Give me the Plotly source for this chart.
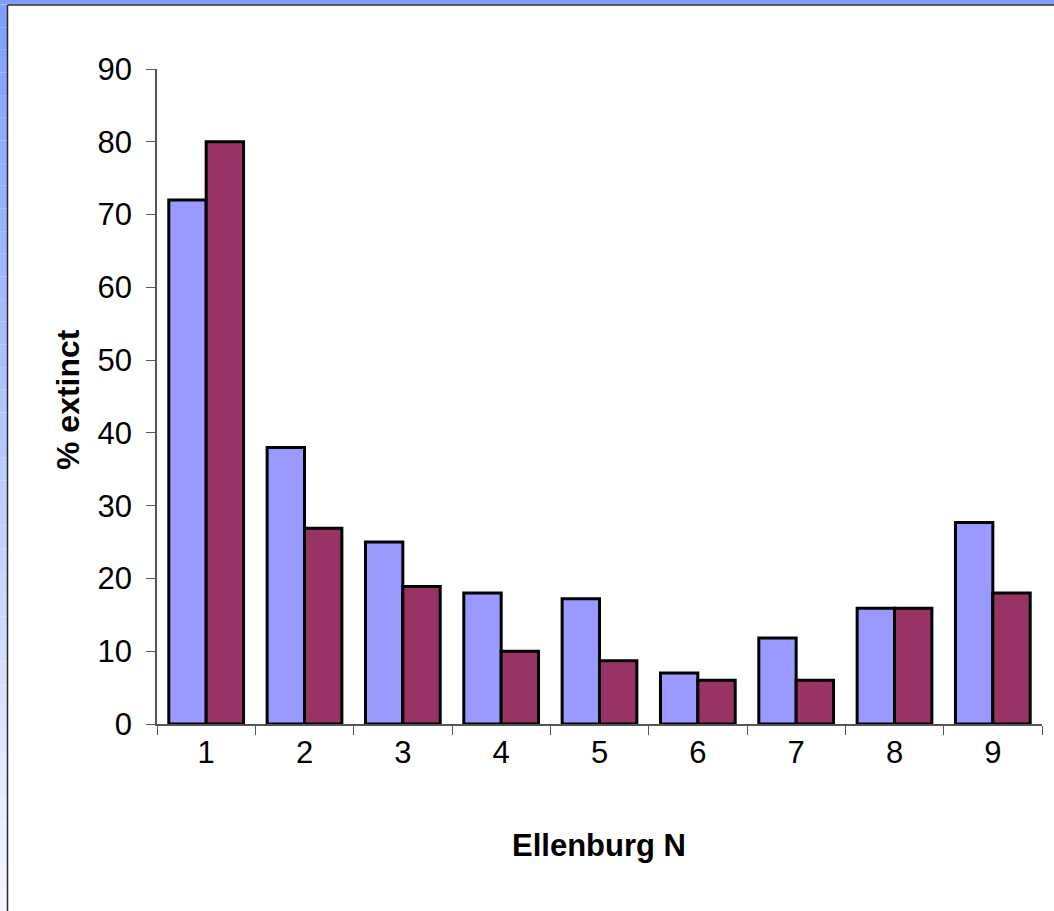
import plotly.graph_objects as go

# Ellenberg N indicator value categories
categories = ["1", "2", "3", "4", "5", "6", "7", "8", "9"]
series_a = [72, 38, 25, 18, 17.2, 7, 11.8, 15.9, 27.7]
series_b = [80, 26.9, 18.9, 10, 8.7, 6, 6, 15.9, 18]
y_ticks = [0, 10, 20, 30, 40, 50, 60, 70, 80, 90]

W, H = 1054, 911
L, R, T, B = 157, 12, 69, 187
pw, ph = W - L - R, H - T - B


def px_x(x):
    return (x - L) / pw


def px_y(y):
    return 1 - (y - T) / ph


fig = go.Figure()
fig.add_trace(go.Bar(x=categories, y=series_a, marker=dict(color="#9999FF", line=dict(color="black", width=3))))
fig.add_trace(go.Bar(x=categories, y=series_b, marker=dict(color="#993366", line=dict(color="black", width=3))))

shapes = []
# slide frame: blue top strip and gradient left strip
shapes.append(dict(type="rect", xref="paper", yref="paper", x0=px_x(0), x1=px_x(W), y0=px_y(0), y1=px_y(4.5),
                   fillcolor="#7F9FFF", line=dict(width=0), layer="below"))
n = 40
for i in range(n):
    y0 = 4.5 + (H - 4.5) * i / n
    y1 = 4.5 + (H - 4.5) * (i + 1) / n
    t = i / (n - 1)
    r = int(0x80 + (0xF4 - 0x80) * t)
    g = int(0xA0 + (0xF6 - 0xA0) * t)
    b = 0xFF
    shapes.append(dict(type="rect", xref="paper", yref="paper", x0=px_x(0), x1=px_x(7), y0=px_y(y0), y1=px_y(y1),
                       fillcolor=f"rgb({r},{g},{b})", line=dict(width=0), layer="below"))
shapes.append(dict(type="line", xref="paper", yref="paper", x0=px_x(7.5), x1=px_x(W), y0=px_y(5), y1=px_y(5),
                   line=dict(color="#2a2a2a", width=1.5), layer="below"))
shapes.append(dict(type="line", xref="paper", yref="paper", x0=px_x(7.5), x1=px_x(7.5), y0=px_y(5), y1=px_y(H),
                   line=dict(color="#2a2a2a", width=1.5), layer="below"))

fig.update_layout(
    width=W, height=H,
    margin=dict(l=L, r=R, t=T, b=B),
    paper_bgcolor="white", plot_bgcolor="white",
    barmode="group", bargap=0.24, bargroupgap=0,
    showlegend=False,
    font=dict(family="Liberation Sans, Arial, sans-serif", size=31, color="black"),
    shapes=shapes,
    xaxis=dict(type="category", showline=True, linecolor="#555555", linewidth=1.5,
               ticks="outside", ticklen=9, tickcolor="#555555", tickson="boundaries",
               showgrid=False, zeroline=False, tickfont=dict(size=31)),
    yaxis=dict(range=[0, 90], tickvals=y_ticks, showline=True, linecolor="#555555", linewidth=1.5,
               ticks="outside", ticklen=9, tickcolor="#555555", showgrid=False, zeroline=False,
               tickfont=dict(size=31), ticklabelstandoff=8),
    annotations=[
        dict(text="<b>% extinct</b>", xref="paper", yref="paper", x=px_x(68), y=px_y(400),
             textangle=-90, showarrow=False, font=dict(size=32), xanchor="center", yanchor="middle"),
        dict(text="<b>Ellenburg N</b>", xref="paper", yref="paper", x=px_x(599), y=px_y(845),
             showarrow=False, font=dict(size=31), xanchor="center", yanchor="middle"),
    ],
)

fig.write_html("out.html")
